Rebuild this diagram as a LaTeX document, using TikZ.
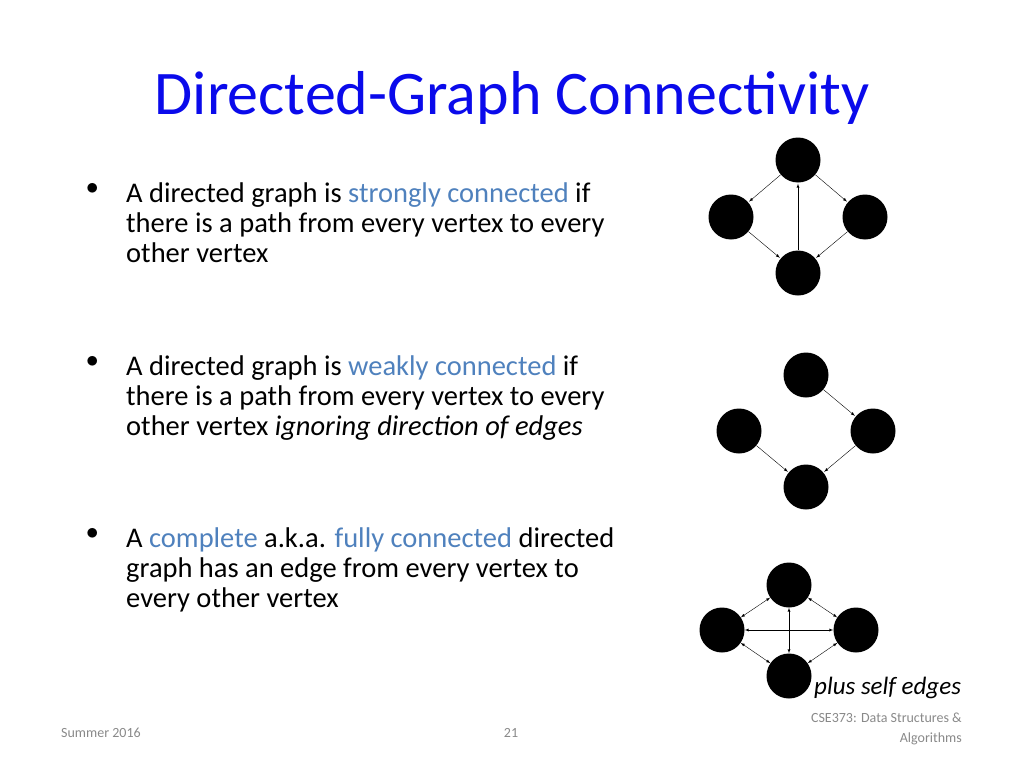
\documentclass[tikz,border=0pt]{standalone}
\usepackage{fontspec}
\setmainfont{Carlito}
\definecolor{ttl}{RGB}{10,10,235}
\definecolor{hl}{RGB}{79,129,189}
\definecolor{ft}{RGB}{137,137,137}
\begin{document}
\begin{tikzpicture}[x=1pt,y=-1pt,
 v/.style={circle,fill=black,minimum size=45pt,inner sep=0pt},
 e/.style={-latex,thin,shorten >=1pt},
 b/.style={latex-latex,thin},
 body/.style={anchor=north west,align=left,inner sep=0pt,font=\fontsize{28.5}{30}\selectfont},
 foot/.style={font=\fontsize{14}{20}\selectfont,text=ft,inner sep=0pt}]
\useasboundingbox (0,0) rectangle (1024,768);
\node[text=ttl,font=\fontsize{62}{62}\selectfont,inner sep=0pt] (title) at (512,98) {Directed-Graph Connectivity};
\node[body] (b1) at (86,183) {$\bullet$};
\node[body] (t1) at (126,183) {A directed graph is \textcolor{hl}{strongly connected} if\\there is a path from every vertex to every\\other vertex};
\node[body] (b2) at (86,356) {$\bullet$};
\node[body] (t2) at (126,356) {A directed graph is \textcolor{hl}{weakly connected} if\\there is a path from every vertex to every\\other vertex \textit{ignoring direction of edges}};
\node[body] (b3) at (86,528) {$\bullet$};
\node[body] (t3) at (126,528) {A \textcolor{hl}{complete} a.k.a. \textcolor{hl}{fully connected} directed\\graph has an edge from every vertex to\\every other vertex};
% graph 1
\node[v] (a1) at (798,160) {}; \node[v] (a2) at (731,217) {};
\node[v] (a3) at (865,217) {}; \node[v] (a4) at (798,273) {};
\draw[e] (a1)--(a2); \draw[e] (a1)--(a3); \draw[e] (a2)--(a4);
\draw[e] (a3)--(a4); \draw[e] (a4)--(a1);
% graph 2
\node[v] (c1) at (806,375) {}; \node[v] (c2) at (739,431) {};
\node[v] (c3) at (873,431) {}; \node[v] (c4) at (806,487) {};
\draw[e] (c1)--(c3); \draw[e] (c2)--(c4); \draw[e] (c3)--(c4);
% graph 3
\node[v] (d1) at (789,585) {}; \node[v] (d2) at (722,630) {};
\node[v] (d3) at (856,630) {}; \node[v] (d4) at (789,676) {};
\draw[b] (d1)--(d2); \draw[b] (d1)--(d3); \draw[b] (d2)--(d4);
\draw[b] (d3)--(d4); \draw[b] (d1)--(d4); \draw[b] (d2)--(d3);
\node[font=\fontsize{25}{25}\selectfont\itshape,anchor=west,inner sep=0pt] (pse) at (814,688) {plus self edges};
\node[foot,anchor=west] (f1) at (61,733) {Summer 2016};
\node[foot] (f2) at (511,733) {21};
\node[foot,align=right,anchor=north east] (f3) at (962,713) {CSE373: Data Structures \&\\Algorithms};
\end{tikzpicture}
\end{document}
